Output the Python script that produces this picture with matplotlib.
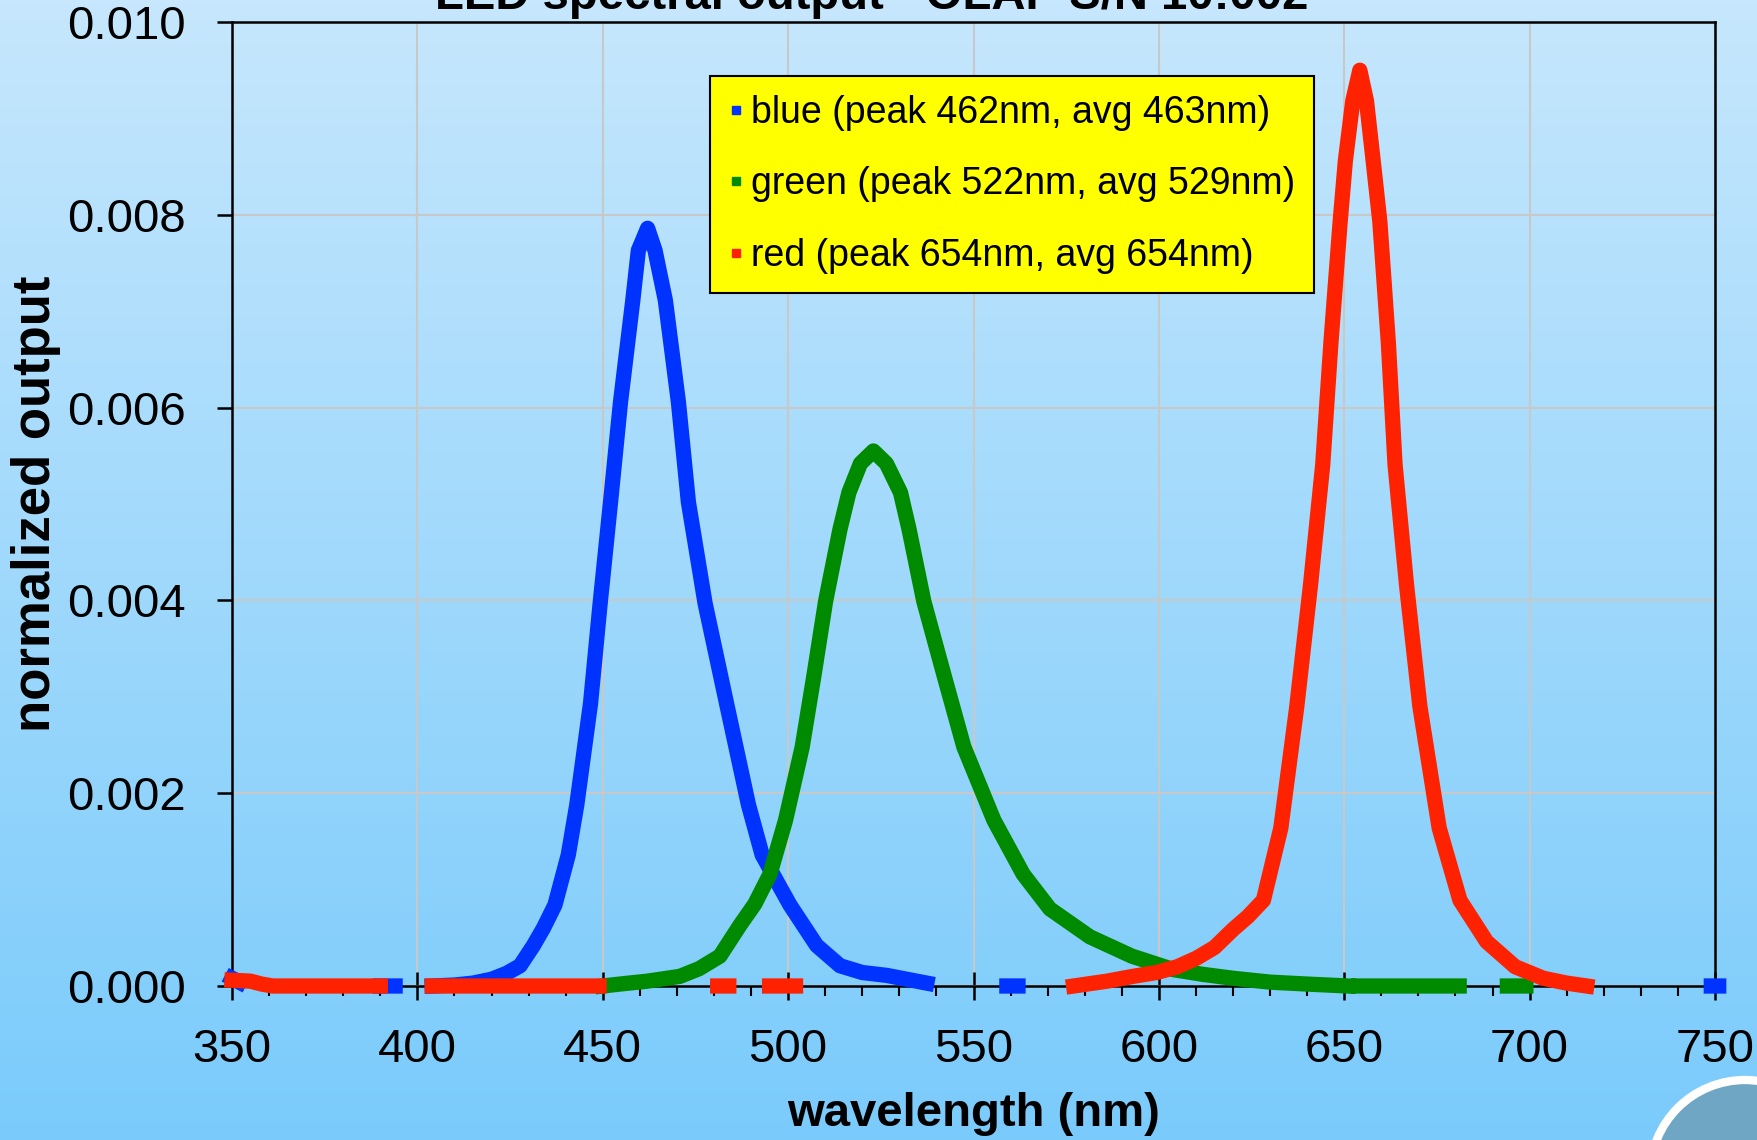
import numpy as np
import matplotlib
matplotlib.use('Agg')
import matplotlib.pyplot as plt
from matplotlib.lines import Line2D
from matplotlib.patches import Circle
from matplotlib.ticker import MultipleLocator, FormatStrFormatter

plt.rcParams['font.family'] = ['Liberation Sans', 'DejaVu Sans']

nan = np.nan

blue_nm = [350, 352, 370, 390, 394, 398, 404, 410, 415, 420,
           424, 427.7, 431.3, 434, 437.1, 440.7, 443, 446.7, 449.3, 452.1,
           454.8, 458.1, 459.6, 462.1, 464.1, 466.9, 470.4, 473.1, 477.6, 483.4,
           489.3, 493, 500.5, 507.7, 514, 520, 526.6, 532, 537.4, 548,
           559, 562, 650, 749, 751]
blue_out = [0.00008, 0.00004, nan, 0, 0, nan, 0, 0.00001, 0.00003, 0.00007,
            0.00013, 0.00021, 0.00042, 0.0006, 0.00084, 0.00136, 0.00188, 0.00293, 0.00397, 0.00502,
            0.00606, 0.00711, 0.00763, 0.00786, 0.00763, 0.00711, 0.00606, 0.00502, 0.00397, 0.00293,
            0.00188, 0.00136, 0.00084, 0.00042, 0.00021, 0.00014, 0.00011, 0.00007, 0.00003, nan,
            0, 0, nan, 0, 0]

green_nm = [450, 454.6, 462, 470.8, 476, 481.6, 487, 491, 495.1, 499.3,
            503.8, 507, 510.1, 514, 516.4, 519.5, 523, 526.5, 530.3, 532.6,
            536.6, 542, 547.4, 555.5, 563.4, 570.6, 581.4, 592.7, 603.9, 612,
            620, 630, 640, 651, 652.5, 654, 681, 688, 694, 699]
green_out = [0, 0.00002, 0.00005, 0.0001, 0.00018, 0.00031, 0.00063, 0.00085, 0.00116, 0.00172,
             0.00248, 0.00323, 0.00399, 0.00474, 0.00512, 0.00542, 0.00555, 0.00542, 0.00512, 0.00474,
             0.00399, 0.00323, 0.00248, 0.00172, 0.00116, 0.0008, 0.00051, 0.00031, 0.00017, 0.00012,
             0.00008, 0.00004, 0.00002, 0, nan, 0, 0, nan, 0, 0]

red_nm = [350, 355, 358, 361, 390, 397, 404, 449, 465, 481,
          484, 490, 495, 502, 540, 577, 586, 593, 599.4, 605,
          610.2, 615, 620.1, 624, 628.2, 632.9, 637.2, 640.9, 644.2, 646.4,
          648.9, 650.3, 652.3, 654.2, 656, 657.8, 659.6, 661.9, 663.7, 666.8,
          670.4, 675.6, 681.2, 688.4, 696.1, 703.7, 710, 715.4]
red_out = [0.00006, 0.00005, 0.00002, 0, 0, nan, 0, 0, nan, 0,
           0, nan, 0, 0, nan, 0, 0.00005, 0.0001, 0.00014, 0.0002,
           0.00029, 0.0004, 0.00059, 0.00072, 0.00089, 0.00164, 0.0029, 0.00416, 0.00541, 0.00667,
           0.00793, 0.00856, 0.00918, 0.0095, 0.00918, 0.00856, 0.00793, 0.00667, 0.00541, 0.00416,
           0.0029, 0.00164, 0.00089, 0.00046, 0.0002, 0.00008, 0.00003, 0]

labels = ['blue (peak 462nm, avg 463nm)',
          'green (peak 522nm, avg 529nm)',
          'red (peak 654nm, avg 654nm)']
colors = ['#0033ff', '#008a00', '#ff2200']

W, H = 1758, 1140
fig = plt.figure(figsize=(W / 100, H / 100), dpi=100)

# slide background gradient
bg = fig.add_axes([0, 0, 1, 1], zorder=-1)
grad = np.linspace(0, 1, 256).reshape(-1, 1)
top = np.array([198, 231, 253]) / 255
bot = np.array([122, 203, 251]) / 255
img = top + (bot - top) * grad[:, :, None]
bg.imshow(img, extent=[0, W, 0, H], aspect='auto')
bg.add_patch(Circle((1745, -35), 95, facecolor='#6fa6c4', edgecolor='white', lw=6))
bg.set_xlim(0, W)
bg.set_ylim(0, H)
bg.axis('off')

ax = fig.add_axes([232 / W, (H - 986) / H, (1715 - 232) / W, (986 - 22) / H])
ax.set_facecolor('none')

for x, y, c in zip([blue_nm, green_nm, red_nm], [blue_out, green_out, red_out], colors):
    ax.plot(x, y, color=c, lw=11, solid_capstyle='projecting', solid_joinstyle='round',
            clip_on=False, zorder=3)

ax.set_xlim(350, 750)
ax.set_ylim(0, 0.010)
ax.xaxis.set_major_locator(MultipleLocator(50))
ax.xaxis.set_minor_locator(MultipleLocator(10))
ax.yaxis.set_major_locator(MultipleLocator(0.002))
ax.yaxis.set_major_formatter(FormatStrFormatter('%.3f'))
ax.grid(True, which='major', color='#c8c8c8', lw=1.5)
ax.set_axisbelow(True)
ax.tick_params(axis='x', which='major', direction='inout', length=20, width=1.8,
               labelsize=34, pad=20)
ax.tick_params(axis='x', which='minor', direction='out', length=7, width=1.5)
ax.tick_params(axis='y', which='major', direction='out', length=11, width=1.8,
               labelsize=34, pad=22)
for s in ax.spines.values():
    s.set_linewidth(1.8)

ax.set_xlabel('wavelength (nm)', fontsize=34, fontweight='bold', va='center')
ax.xaxis.set_label_coords(0.5, (986 - 1114) / 964)
ax.set_ylabel('normalized output', fontsize=38, fontweight='bold', va='center')
ax.yaxis.set_label_coords((36 - 232) / 1483, 0.5)

fig.text(0.496, 1 - 9 / H, 'LED spectral output - OLAP S/N 10:002', fontsize=34,
         fontweight='bold', ha='center', va='baseline')

handles = [Line2D([], [], ls='none', marker='s', ms=6, color=c) for c in colors]
leg = ax.legend(handles, labels, loc='upper left', bbox_to_anchor=(0.322, 0.944),
                fontsize=27, frameon=True, fancybox=False, facecolor='yellow',
                edgecolor='black', framealpha=1, handlelength=0.4, handletextpad=0.2,
                labelspacing=0.95, borderpad=0.5, borderaxespad=0)
leg.get_frame().set_linewidth(1.5)

plt.savefig('out.png', dpi=100)
